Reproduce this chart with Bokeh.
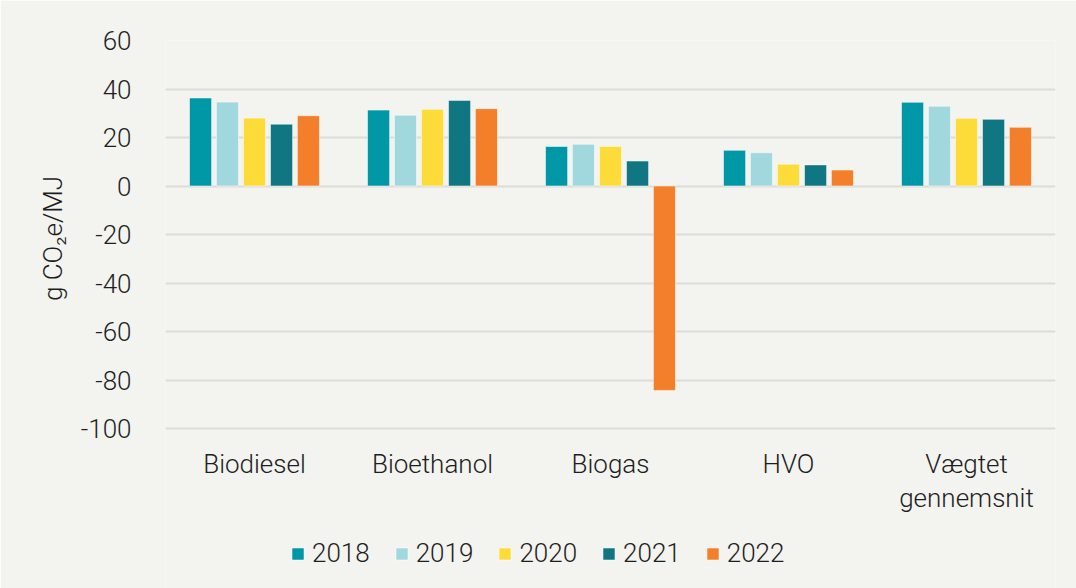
from bokeh.plotting import figure
from bokeh.models import ColumnDataSource, Legend, LegendItem, FixedTicker
from bokeh.transform import dodge
from bokeh.embed import file_html
from bokeh.resources import INLINE
from bokeh.core.properties import value

categories = ["Biodiesel", "Bioethanol", "Biogas", "HVO", "Vægtet gennemsnit"]
label_line1 = ["Biodiesel", "Bioethanol", "Biogas", "HVO", "Vægtet"]
label_line2 = ["", "", "", "", "gennemsnit"]
years = ["2018", "2019", "2020", "2021", "2022"]
v2018 = [36.3, 31.3, 16.3, 14.7, 34.5]
v2019 = [34.6, 29.2, 17.2, 13.7, 32.9]
v2020 = [28.0, 31.6, 16.3, 9.0, 27.9]
v2021 = [25.5, 35.3, 10.3, 8.7, 27.5]
v2022 = [29.0, 31.9, -84.3, 6.6, 24.2]
yticks = [-100, -80, -60, -40, -20, 0, 20, 40, 60]
colors = ["#0097a7", "#a0d8de", "#fddc3a", "#107782", "#f47f2a"]

BG = "#f3f3ef"
TXT = "#1e1e1e"
FONT = "Roboto Light, Roboto"

# layout: value axis spans 388 px for -100..60; frame extended below to hold labels + legend
Y_MIN, Y_MAX = -100, 60
AXIS_PX = 388
EXTRA_PX = 160
px_per_unit = AXIS_PX / (Y_MAX - Y_MIN)
y_bottom = Y_MIN - EXTRA_PX / px_per_unit
line1_y = Y_MIN - 35 / px_per_unit
line2_y = Y_MIN - 69 / px_per_unit

src = ColumnDataSource(dict(cat=categories, l1=label_line1, l2=label_line2,
                            **{y: v for y, v in zip(years, [v2018, v2019, v2020, v2021, v2022])}))

p = figure(x_range=categories, y_range=(y_bottom, Y_MAX), frame_width=890, frame_height=AXIS_PX + EXTRA_PX,
           x_axis_location=None, output_backend="svg", toolbar_location=None,
           min_border_top=40, min_border_left=165, min_border_right=21, min_border_bottom=0)
p.background_fill_color = BG
p.border_fill_color = BG
p.outline_line_color = None

offsets = [-0.303, -0.152, 0.0, 0.152, 0.303]
items = []
for y, off, c in zip(years, offsets, colors):
    r = p.vbar(x=dodge("cat", off, range=p.x_range), top=y, bottom=0, width=0.124,
               source=src, fill_color=c, line_color="white", line_alpha=0.5, line_width=1)
    items.append(LegendItem(label=y, renderers=[r]))

# category labels (two lines for the last one)
for col, yy in (("l1", line1_y), ("l2", line2_y)):
    p.text(x="cat", y=yy, text=col, source=src, text_font=value(FONT), text_font_size="26px",
           text_color=TXT, text_align="center", text_baseline="middle")

for g in p.xgrid:
    g.grid_line_color = None
p.ygrid.grid_line_color = "#dcdcd8"
p.ygrid.grid_line_width = 2
p.yaxis.ticker = FixedTicker(ticks=yticks)
p.yaxis.major_label_overrides = {t: str(t) for t in yticks}

ax = p.yaxis[0]
ax.axis_line_color = None
ax.major_tick_line_color = None
ax.minor_tick_line_color = None
ax.major_label_text_font = FONT
ax.major_label_text_font_size = "26px"
ax.major_label_text_color = TXT
ax.major_label_standoff = 28
ax.axis_label = "\u00a0" * 24 + "g CO₂e/MJ"
ax.axis_label_text_font = FONT
ax.axis_label_text_font_size = "26px"
ax.axis_label_text_font_style = "normal"
ax.axis_label_text_color = TXT
ax.axis_label_standoff = 10

legend = Legend(items=items, orientation="horizontal", location=(125, 20),
                label_text_font=FONT, label_text_font_size="26px", label_text_color=TXT,
                glyph_width=15, glyph_height=15, label_standoff=7, spacing=24,
                background_fill_alpha=0, border_line_color=None, margin=0, padding=4)
p.add_layout(legend, "center")

open("out.html", "w").write(file_html(p, INLINE))
